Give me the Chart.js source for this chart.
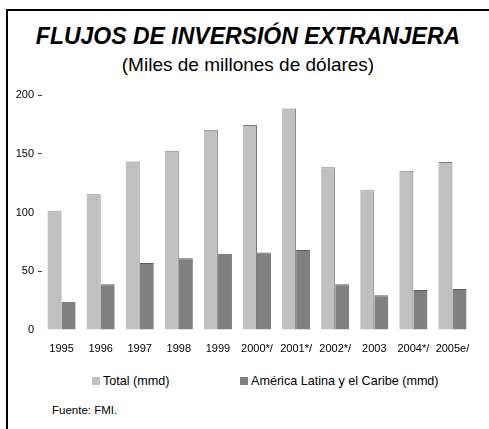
<!DOCTYPE html>
<html>
<head>
<meta charset="utf-8">
<script src="https://cdn.jsdelivr.net/npm/chart.js@4.4.1/dist/chart.umd.min.js"></script>
<style>
  html, body { margin: 0; padding: 0; background: #fff; width: 489px; height: 429px; overflow: hidden; position: relative; font-family: "Liberation Sans", Arial, sans-serif; }
  #frame { position: absolute; left: 6px; top: 9px; width: 500px; height: 440px; border-left: 2px solid #000; border-top: 2px solid #000; }
  #title { position: absolute; left: 6px; width: 484px; top: 23px; text-align: center; font-weight: bold; font-style: italic; font-size: 23px; color: #000; }
  #subtitle { position: absolute; left: 6px; width: 484px; top: 54px; text-align: center; font-size: 19px; color: #000; }
  #chartwrap { position: absolute; left: 0; top: 0; width: 489px; height: 365px; }
  #legend { position: absolute; left: 92px; top: 374px; display: flex; font-size: 12.6px; color: #000; }
  .item { display: flex; align-items: center; min-width: 148px; }
  .box { width: 8px; height: 8px; margin-right: 3px; }
  #source { position: absolute; left: 52px; top: 404px; font-size: 11.5px; color: #000; }
</style>
</head>
<body>
<div id="frame"></div>
<div id="title">FLUJOS DE INVERSIÓN EXTRANJERA</div>
<div id="subtitle">(Miles de millones de dólares)</div>
<div id="chartwrap"><canvas id="c" width="489" height="365"></canvas></div>
<div id="legend"></div>
<div id="source">Fuente: FMI.</div>
<script>
const categories = ["1995", "1996", "1997", "1998", "1999", "2000*/", "2001*/", "2002*/", "2003", "2004*/", "2005e/"];
const totalValues = [101, 115.5, 143.5, 152.5, 170.5, 174.5, 188.5, 138.5, 119, 135.5, 143];
const latamValues = [24, 39, 57, 61, 65, 66, 68, 39, 29.5, 34, 35];
const seriesNames = ["Total (mmd)", "América Latina y el Caribe (mmd)"];
const yTicks = [0, 50, 100, 150, 200];
const yTicksWithDash = [50, 150, 200];

const FONT = "'Liberation Sans', Arial, sans-serif";

const chart = new Chart(document.getElementById('c'), {
  type: 'bar',
  data: {
    labels: categories,
    datasets: [
      {
        label: seriesNames[0],
        data: totalValues,
        backgroundColor: '#c0c0c0',
        borderColor: '#7c7c7c',
        borderWidth: { top: 1, right: 1, left: 0, bottom: 0 },
        borderSkipped: false,
        categoryPercentage: 0.72,
        barPercentage: 1.0
      },
      {
        label: seriesNames[1],
        data: latamValues,
        backgroundColor: '#808080',
        borderColor: '#5a5a5a',
        borderWidth: { top: 1, right: 0, left: 0, bottom: 0 },
        borderSkipped: false,
        categoryPercentage: 0.72,
        barPercentage: 1.0
      }
    ]
  },
  options: {
    responsive: false,
    animation: false,
    layout: { padding: { top: 95, right: 17, left: 0, bottom: 0 } },
    plugins: {
      legend: { display: false },
      title: { display: false },
      tooltip: { enabled: false }
    },
    scales: {
      x: {
        grid: { display: false, drawTicks: false },
        border: { display: false },
        ticks: {
          color: '#000',
          font: { family: FONT, size: 11 },
          padding: 12,
          maxRotation: 0,
          autoSkip: false
        },
        afterFit: (s) => { s.height = 35; }
      },
      y: {
        min: 0,
        max: 200,
        afterBuildTicks: (s) => { s.ticks = yTicks.map(v => ({ value: v })); },
        grid: {
          drawOnChartArea: false,
          drawTicks: true,
          tickLength: 4,
          tickColor: (ctx) => (ctx.tick && yTicksWithDash.includes(ctx.tick.value)) ? '#444' : 'rgba(0,0,0,0)'
        },
        border: { display: false },
        ticks: {
          color: '#000',
          font: { family: FONT, size: 11 },
          padding: 4
        },
        afterFit: (s) => { s.width = 42; }
      }
    }
  }
});

// HTML legend built from the chart's datasets
const legendEl = document.getElementById('legend');
chart.data.datasets.forEach(ds => {
  const item = document.createElement('div');
  item.className = 'item';
  const box = document.createElement('span');
  box.className = 'box';
  box.style.background = ds.backgroundColor;
  const txt = document.createElement('span');
  txt.textContent = ds.label;
  item.appendChild(box);
  item.appendChild(txt);
  legendEl.appendChild(item);
});
</script>
</body>
</html>
